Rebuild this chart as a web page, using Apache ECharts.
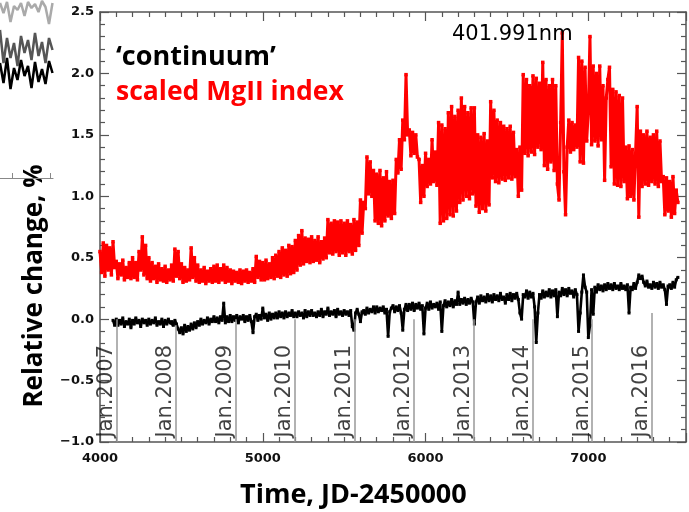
<!DOCTYPE html>
<html><head><meta charset="utf-8">
<script src="https://cdn.jsdelivr.net/npm/echarts@6/dist/echarts.min.js"></script>
<style>html,body{margin:0;padding:0;background:#fff}#c{width:689px;height:512px}</style>
</head><body><div id="c"></div>
<script>
// time grid (JD-2450000): start and step of the sampled series
const redStart = 4000, blackStart = 4080, step = 10;
// scaled MgII index (%)
const mgii = [
0.55,0.38,0.62,0.35,0.60,0.40,0.58,0.36,0.63,0.42,
0.47,0.33,0.45,0.36,0.48,0.32,0.42,0.34,0.46,0.33,
0.50,0.34,0.46,0.32,0.55,0.40,0.67,0.36,0.60,0.33,
0.50,0.31,0.46,0.33,0.43,0.30,0.45,0.32,0.41,0.31,
0.43,0.30,0.40,0.32,0.44,0.31,0.57,0.35,0.55,0.33,
0.45,0.30,0.42,0.31,0.40,0.32,0.58,0.34,0.50,0.31,
0.44,0.30,0.40,0.31,0.42,0.29,0.39,0.31,0.41,0.30,
0.43,0.31,0.44,0.30,0.41,0.32,0.44,0.30,0.42,0.31,
0.40,0.29,0.39,0.31,0.38,0.30,0.40,0.29,0.39,0.31,
0.40,0.30,0.38,0.31,0.41,0.30,0.51,0.34,0.47,0.32,
0.46,0.32,0.48,0.33,0.45,0.34,0.50,0.33,0.52,0.35,
0.55,0.34,0.58,0.36,0.56,0.35,0.60,0.37,0.59,0.38,
0.64,0.40,0.68,0.44,0.72,0.45,0.66,0.47,0.65,0.46,
0.67,0.47,0.64,0.48,0.67,0.46,0.63,0.49,0.66,0.50,
0.81,0.54,0.78,0.53,0.80,0.55,0.79,0.52,0.80,0.54,
0.78,0.52,0.80,0.55,0.77,0.53,0.81,0.56,0.79,0.60,
0.97,0.70,0.95,0.90,1.32,1.02,1.28,1.00,1.21,0.80,
1.18,0.78,1.21,0.76,1.15,0.80,1.20,0.84,1.12,0.82,
1.13,0.86,1.30,1.19,1.46,1.22,1.62,1.46,1.99,1.50,
1.54,1.33,1.52,1.35,1.50,1.32,1.30,0.95,1.25,1.00,
1.35,1.08,1.30,1.10,1.46,1.12,1.36,1.09,1.60,0.78,
1.58,0.80,1.55,0.82,1.68,0.85,1.73,0.84,1.65,0.88,
1.70,0.95,1.80,0.97,1.73,1.00,1.68,0.98,1.72,1.02,
1.72,0.92,1.50,0.87,1.48,0.90,1.51,0.88,1.45,0.93,
1.77,1.15,1.70,1.12,1.62,1.11,1.60,1.14,1.57,1.13,
1.55,1.15,1.57,1.14,1.52,1.16,1.38,1.00,1.40,1.05,
1.99,1.35,1.95,1.33,1.90,1.36,1.98,1.34,1.96,1.40,
1.92,1.38,2.09,1.25,1.95,1.22,1.90,1.28,1.95,1.21,
1.90,1.10,0.97,1.60,2.33,1.20,0.85,1.40,1.62,1.36,
1.60,1.38,1.58,1.40,2.13,1.28,2.10,1.27,2.05,1.45,
1.70,2.30,1.42,2.06,1.45,2.00,1.41,2.06,1.46,1.90,
1.13,1.80,1.95,2.05,1.24,1.87,1.10,1.85,1.09,1.82,
1.08,1.80,1.12,1.40,0.98,1.41,1.00,1.38,0.97,1.35,
1.73,0.83,1.53,1.08,1.50,1.10,1.53,1.09,1.48,1.12,
1.50,1.10,1.53,1.08,1.45,1.12,1.16,0.85,1.15,0.88,
1.12,0.83,1.16,0.86,1.05,0.95];
// 'continuum' at 401.991 nm (%)
const continuum = [
-0.01,-0.05,
0.00,-0.05,-0.01,-0.04,0.01,-0.06,-0.02,-0.04,0.00,-0.07,
-0.01,-0.04,0.01,-0.03,-0.01,-0.06,0.00,-0.03,-0.01,-0.05,
0.00,-0.04,-0.01,-0.03,0.01,-0.05,-0.02,-0.04,0.00,-0.06,
-0.01,-0.04,0.00,-0.03,-0.02,-0.05,-0.01,-0.04,-0.08,-0.11,
-0.07,-0.12,-0.05,-0.10,-0.06,-0.09,-0.04,-0.08,-0.03,-0.07,
-0.02,-0.05,0.00,-0.04,-0.01,-0.03,0.01,-0.04,0.00,-0.02,
0.02,-0.02,0.01,-0.03,0.02,-0.01,0.13,-0.03,0.02,-0.02,
0.03,-0.02,0.02,-0.01,0.03,-0.03,0.02,0.00,0.03,-0.02,
0.02,-0.01,0.03,-0.02,-0.11,0.02,0.04,-0.01,0.03,0.00,
0.09,0.01,0.04,-0.01,0.05,0.00,0.04,0.01,0.05,0.01,
0.06,0.02,0.05,0.01,0.06,0.02,0.05,0.03,0.07,0.02,
0.05,0.02,0.06,0.03,0.05,0.01,0.07,0.02,0.06,0.03,
0.07,0.03,0.05,0.02,0.06,0.03,0.08,0.02,0.06,0.04,
0.09,0.03,0.06,0.04,0.07,0.02,0.08,0.04,0.06,0.03,
0.07,0.04,0.06,0.03,0.07,-0.06,-0.09,0.05,0.08,0.04,
-0.02,0.06,0.07,0.04,0.09,0.05,0.08,0.06,0.10,0.05,
0.10,0.06,0.09,0.07,0.10,0.05,0.08,-0.14,0.06,0.09,
0.11,0.06,0.10,0.07,0.11,0.05,-0.09,0.08,0.12,0.07,
0.12,0.08,0.13,0.07,0.12,0.09,0.13,0.08,0.11,-0.12,
0.09,0.13,0.08,0.14,0.09,0.12,0.10,0.13,0.08,0.14,
-0.10,0.11,0.15,0.10,0.14,0.11,0.16,0.10,0.15,0.12,
0.22,0.12,0.16,0.13,0.17,0.12,0.16,0.13,0.17,0.14,
-0.04,0.14,0.18,0.13,0.19,0.15,0.18,0.14,0.20,0.15,
0.19,0.14,0.20,0.16,0.19,0.15,0.21,0.16,0.18,0.13,
0.20,0.16,0.21,0.15,0.20,0.17,0.21,0.16,0.05,0.00,
0.20,0.18,0.23,0.17,0.22,0.18,0.21,0.10,-0.19,0.05,
0.20,0.17,0.23,0.18,0.22,0.19,0.24,0.18,0.23,0.19,
0.24,0.02,0.22,0.19,0.25,0.20,0.24,0.19,0.25,0.21,
0.23,0.18,0.24,0.20,-0.10,0.05,0.22,0.36,0.26,0.22,
-0.15,-0.05,0.24,0.04,0.26,0.22,0.28,0.24,0.27,0.23,
0.28,0.24,0.29,0.25,0.28,0.24,0.29,0.25,0.27,0.24,
0.29,0.25,0.27,0.24,0.28,0.05,0.26,0.24,0.29,0.25,
0.30,0.36,0.33,0.35,0.30,0.27,0.31,0.26,0.28,0.25,
0.30,0.26,0.29,0.25,0.30,0.26,0.28,0.24,0.12,0.27,
0.28,0.25,0.30,0.26,0.32,0.34];
// calendar markers
const yearLabels = ['Jan.2007','Jan.2008','Jan.2009','Jan.2010','Jan.2011','Jan.2012','Jan.2013','Jan.2014','Jan.2015','Jan.2016'];
const yearJD = [4101.5,4466.5,4832.5,5197.5,5562.5,5927.5,6293.5,6658.5,7023.5,7388.5];
const yearLineTop = [0.0,-0.05,0.0,0.0,0.0,0.0,0.0,0.0,0.0,0.05];
// fragment of a neighbouring panel (top-left corner)
const fragLight = [17.5,16.5,17.6,15.6,17.2,16.8,17.5,16.2,17.6,17.0,17.4,16.6,17.7,17.1,15.4,17.5];
const fragDark  = [14.8,11.5,14.0,12.0,13.5,11.2,14.2,12.5,13.8,11.8,14.5,12.2,13.6,11.5,14.0,12.8];
const fragBlack = [11.5,9.5,12.0,8.9,11.0,9.8,11.8,10.2,11.2,9.0,11.6,9.6,10.9,9.4,11.7,10.5];

const redData = mgii.map((v,i)=>[redStart+i*step, v]);
const blackData = continuum.map((v,i)=>[blackStart+i*step, v]);

const axisCol = '#555';
const tickFont = {fontFamily:'DejaVu Sans', fontWeight:'bold', fontSize:13, color:'#111'};
const boldFont = 'Open Sans';
const chart = echarts.init(document.getElementById('c'), null, {renderer:'canvas'});
chart.setOption({
  animation:false,
  backgroundColor:'#fff',
  grid:[
    {left:100, right:3, top:12, bottom:70, show:false, outerBoundsMode:'none', containLabel:false},
    {left:0, top:0, width:53, height:178, show:false, outerBoundsMode:'none', containLabel:false}
  ],
  title:[
    {text:'\u2018continuum\u2019', left:111, top:39, textStyle:{fontFamily:boldFont, fontWeight:'bold', fontSize:27, color:'#000'}},
    {text:'scaled MgII index', left:111, top:74, textStyle:{fontFamily:boldFont, fontWeight:'bold', fontSize:26.5, color:'#ff0000'}},
    {text:'401.991nm', left:447, top:19, textStyle:{fontFamily:'DejaVu Sans', fontWeight:'normal', fontSize:21, color:'#000'}},
    {text:'Time, JD-2450000', left:235, top:477, textStyle:{fontFamily:boldFont, fontWeight:'bold', fontSize:27, color:'#000'}}
  ],
  graphic:[
    {type:'text', x:35, y:286, rotation:Math.PI/2, style:{text:'Relative change, %', font:'bold 26px "Open Sans"', fill:'#000', align:'center', verticalAlign:'middle'}}
  ],
  xAxis:[
    {type:'value', gridIndex:0, min:4000, max:7600, interval:1000, position:'bottom',
     axisLine:{show:true, onZero:false, lineStyle:{color:axisCol, width:1.5}},
     axisTick:{show:true, inside:true, length:9, lineStyle:{color:axisCol, width:1.2}},
     minorTick:{show:true, splitNumber:10, length:5, lineStyle:{color:axisCol, width:1.2}},
     axisLabel:Object.assign({margin:10, showMaxLabel:false, formatter:v=>String(v)}, tickFont), splitLine:{show:false}},
    {type:'value', gridIndex:0, min:4000, max:7600, interval:1000, position:'top',
     axisLine:{show:true, onZero:false, lineStyle:{color:axisCol, width:1.5}},
     axisTick:{show:true, inside:true, length:9, lineStyle:{color:axisCol, width:1.2}},
     minorTick:{show:true, splitNumber:10, length:5, lineStyle:{color:axisCol, width:1.2}},
     axisLabel:{show:false}, splitLine:{show:false}},
    {type:'value', gridIndex:1, min:0, max:53, position:'bottom',
     axisLine:{show:true, onZero:false, lineStyle:{color:'#888', width:1.2}},
     axisTick:{show:true, inside:true, length:5, customValues:[12,50], lineStyle:{color:'#888'}},
     axisLabel:{show:false}, splitLine:{show:false}}
  ],
  yAxis:[
    {type:'value', gridIndex:0, min:-1, max:2.5, interval:0.5, position:'left',
     axisLine:{show:true, onZero:false, lineStyle:{color:axisCol, width:1.5}},
     axisTick:{show:true, inside:true, length:9, lineStyle:{color:axisCol, width:1.2}},
     minorTick:{show:true, splitNumber:5, length:5, lineStyle:{color:axisCol, width:1.2}},
     axisLabel:Object.assign({margin:6, formatter:v=>v.toFixed(1).replace('-','\u2212')}, tickFont),
     splitLine:{show:false}},
    {type:'value', gridIndex:0, min:-1, max:2.5, interval:0.5, position:'right',
     axisLine:{show:true, onZero:false, lineStyle:{color:axisCol, width:1.5}},
     axisTick:{show:true, inside:true, length:9, lineStyle:{color:axisCol, width:1.2}},
     minorTick:{show:true, splitNumber:5, length:5, lineStyle:{color:axisCol, width:1.2}},
     axisLabel:{show:false}, splitLine:{show:false}},
    {type:'value', gridIndex:1, min:0, max:17.8, show:false}
  ],
  series:[
    {type:'scatter', xAxisIndex:0, yAxisIndex:0, z:1, symbolSize:1, itemStyle:{color:'rgba(0,0,0,0)'},
     data:yearJD.map((x,i)=>({value:[x,-1], name:yearLabels[i]})),
     label:{show:true, formatter:p=>p.name, rotate:90, position:[0,0], align:'left', verticalAlign:'bottom',
            offset:[4,1], fontFamily:'DejaVu Sans', fontSize:21, color:'#111'},
     markLine:{silent:true, symbol:'none', label:{show:false}, animation:false,
       lineStyle:{color:'#999', width:1.5, type:'solid'},
       data:yearJD.map((x,i)=>[{coord:[x,-1]},{coord:[x,yearLineTop[i]]}])}
    },
    {type:'line', name:'continuum', xAxisIndex:0, yAxisIndex:0, z:3, data:blackData,
     showSymbol:true, showAllSymbol:true, symbol:'rect', symbolSize:3, itemStyle:{color:'#000'},
     lineStyle:{color:'#000', width:2.6}},
    {type:'line', name:'MgII', xAxisIndex:0, yAxisIndex:0, z:4, data:redData,
     showSymbol:true, showAllSymbol:true, symbol:'rect', symbolSize:3.5, itemStyle:{color:'#ff0000'},
     lineStyle:{color:'#ff0000', width:3}},
    {type:'line', xAxisIndex:2, yAxisIndex:2, data:fragLight.map((v,i)=>[i*3.5,v]), showSymbol:false, lineStyle:{color:'#aaa', width:2.5}},
    {type:'line', xAxisIndex:2, yAxisIndex:2, data:fragDark.map((v,i)=>[i*3.5,v]), showSymbol:false, lineStyle:{color:'#555', width:2.5}},
    {type:'line', xAxisIndex:2, yAxisIndex:2, data:fragBlack.map((v,i)=>[i*3.5,v]), showSymbol:false, lineStyle:{color:'#000', width:2.5}}
  ]
});
</script></body></html>
